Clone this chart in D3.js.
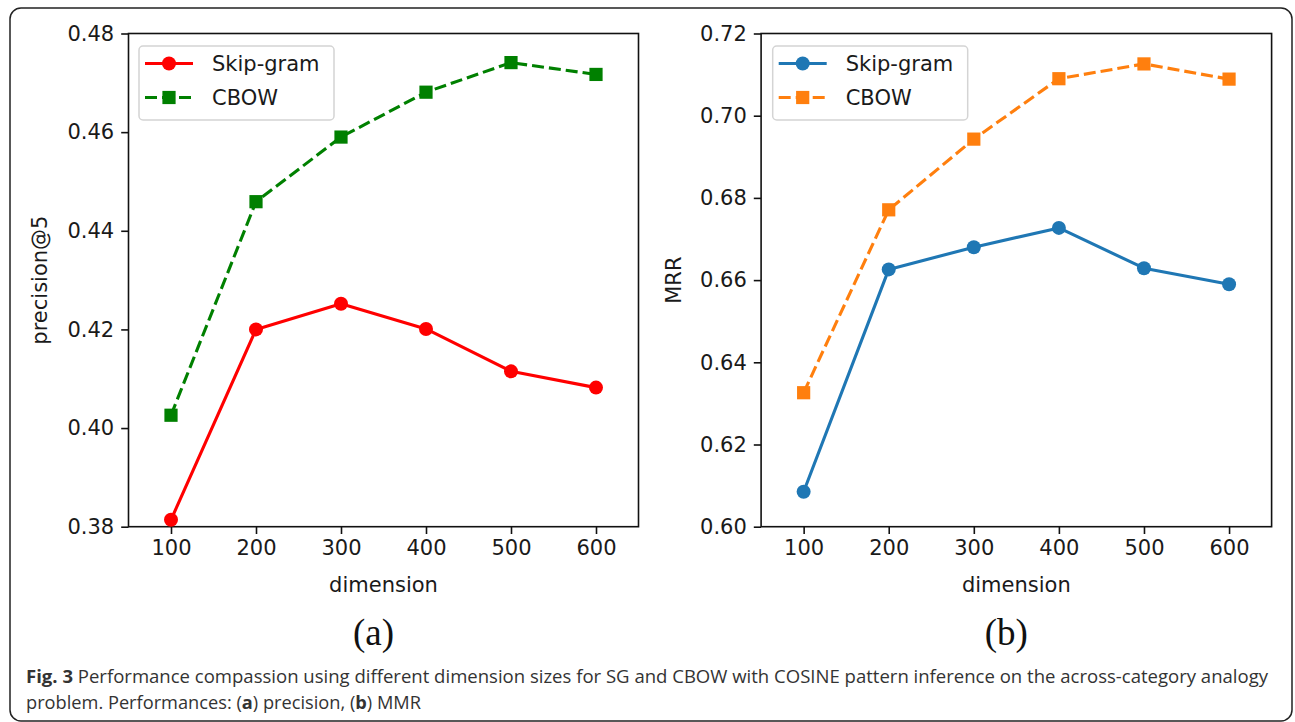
<!DOCTYPE html>
<html>
<head>
<meta charset="utf-8">
<script src="https://cdn.jsdelivr.net/npm/d3@7"></script>
<style>
  html, body { margin: 0; padding: 0; background: #fff; }
  svg { display: block; }
</style>
</head>
<body>
<div id="chart"></div>
<script>
const width = 1295;
const height = 722;

// data
const dimensions = [100, 200, 300, 400, 500, 600];
const precisionSkipGram = [0.3814, 0.4200, 0.4252, 0.4201, 0.4115, 0.4082];
const precisionCbow = [0.4026, 0.4459, 0.4590, 0.4681, 0.4741, 0.4717];
const mrrSkipGram = [0.6085, 0.6626, 0.6680, 0.6727, 0.6629, 0.6590];
const mrrCbow = [0.6326, 0.6771, 0.6943, 0.7090, 0.7126, 0.7089];
const precisionTicks = [0.38, 0.40, 0.42, 0.44, 0.46, 0.48];
const mrrTicks = [0.60, 0.62, 0.64, 0.66, 0.68, 0.70, 0.72];
const seriesNames = ["Skip-gram", "CBOW"];

const captionLine1 = "Performance compassion using different dimension sizes for SG and CBOW with COSINE pattern inference on the across-category analogy";

const chartFont = "'DejaVu Sans', sans-serif";
const fontSize = 21;
const markerR = 7;
const squareHalf = 6.6;

const svg = d3
  .select("#chart")
  .append("svg")
  .attr("width", width)
  .attr("height", height);

// outer rounded frame
svg
  .append("rect")
  .attr("x", 10)
  .attr("y", 8)
  .attr("width", 1282)
  .attr("height", 713)
  .attr("rx", 11)
  .attr("fill", "none")
  .attr("stroke", "#222")
  .attr("stroke-width", 1.5);

const drawPanel = (cfg) => {
  const { left, right, top, bottom } = cfg;
  const x = d3.scaleLinear().domain([50, 650]).range([left, right]);
  const y = d3.scaleLinear().domain(cfg.yDomain).range([bottom, top]);
  const g = svg.append("g");

  // axes
  const xAxis = d3.axisBottom(x).tickValues(dimensions).tickSize(7.3).tickPadding(6);
  const yAxis = d3.axisLeft(y).tickValues(cfg.yTicks).tickSize(7.3).tickPadding(7).tickFormat(d3.format(".2f"));

  g.append("g")
    .attr("transform", `translate(0,${bottom})`)
    .call(xAxis)
    .call((a) => a.select(".domain").remove());
  g.append("g")
    .attr("transform", `translate(${left},0)`)
    .call(yAxis)
    .call((a) => a.select(".domain").remove());

  g.selectAll(".tick line").attr("stroke", "#111").attr("stroke-width", 1.6);
  g.selectAll(".tick text")
    .attr("font-family", chartFont)
    .attr("font-size", fontSize)
    .attr("fill", "#1a1a1a");

  // spines
  g.append("rect")
    .attr("x", left)
    .attr("y", top)
    .attr("width", right - left)
    .attr("height", bottom - top)
    .attr("fill", "none")
    .attr("stroke", "#111")
    .attr("stroke-width", 1.6);

  // axis labels
  g.append("text")
    .attr("x", (left + right) / 2)
    .attr("y", 592)
    .attr("text-anchor", "middle")
    .attr("font-family", chartFont)
    .attr("font-size", fontSize)
    .attr("fill", "#1a1a1a")
    .text("dimension");

  g.append("text")
    .attr("transform", `translate(${cfg.yLabelX},${(top + bottom) / 2}) rotate(-90)`)
    .attr("text-anchor", "middle")
    .attr("font-family", chartFont)
    .attr("font-size", fontSize)
    .attr("fill", "#1a1a1a")
    .text(cfg.yLabel);

  const line = d3
    .line()
    .x((d, i) => x(dimensions[i]))
    .y((d) => y(d));

  // Skip-gram: solid with circles
  g.append("path")
    .datum(cfg.skip)
    .attr("d", line)
    .attr("fill", "none")
    .attr("stroke", cfg.colors[0])
    .attr("stroke-width", 3.1)
    .attr("stroke-linejoin", "round");
  g.append("g")
    .selectAll("circle")
    .data(cfg.skip)
    .enter()
    .append("circle")
    .attr("cx", (d, i) => x(dimensions[i]))
    .attr("cy", (d) => y(d))
    .attr("r", markerR)
    .attr("fill", cfg.colors[0]);

  // CBOW: dashed with squares
  g.append("path")
    .datum(cfg.cbow)
    .attr("d", line)
    .attr("fill", "none")
    .attr("stroke", cfg.colors[1])
    .attr("stroke-width", 3.1)
    .attr("stroke-dasharray", "12,5");
  g.append("g")
    .selectAll("rect")
    .data(cfg.cbow)
    .enter()
    .append("rect")
    .attr("x", (d, i) => x(dimensions[i]) - squareHalf)
    .attr("y", (d) => y(d) - squareHalf)
    .attr("width", squareHalf * 2)
    .attr("height", squareHalf * 2)
    .attr("fill", cfg.colors[1]);

  // legend
  const lx = cfg.legendX;
  const legend = g.append("g");
  legend
    .append("rect")
    .attr("x", lx)
    .attr("y", 46)
    .attr("width", 195)
    .attr("height", 74)
    .attr("rx", 4)
    .attr("fill", "rgba(255,255,255,0.8)")
    .attr("stroke", "#d4d4d4")
    .attr("stroke-width", 1.5);

  const rows = legend
    .selectAll("g.row")
    .data(seriesNames)
    .enter()
    .append("g")
    .attr("class", "row")
    .attr("transform", (d, i) => `translate(${lx},${i === 0 ? 63.5 : 97.5})`);

  rows
    .append("line")
    .attr("x1", 6)
    .attr("x2", 54)
    .attr("stroke", (d, i) => cfg.colors[i])
    .attr("stroke-width", 3.1)
    .attr("stroke-dasharray", (d, i) => (i === 1 ? "12,5" : null));

  rows
    .filter((d, i) => i === 0)
    .append("circle")
    .attr("cx", 30)
    .attr("r", markerR)
    .attr("fill", cfg.colors[0]);
  rows
    .filter((d, i) => i === 1)
    .append("rect")
    .attr("x", 30 - squareHalf)
    .attr("y", -squareHalf)
    .attr("width", squareHalf * 2)
    .attr("height", squareHalf * 2)
    .attr("fill", cfg.colors[1]);

  rows
    .append("text")
    .attr("x", 73)
    .attr("y", 7.5)
    .attr("font-family", chartFont)
    .attr("font-size", fontSize)
    .attr("fill", "#1a1a1a")
    .text((d) => d);

  // panel letter
  g.append("text")
    .attr("x", (left + right) / 2 - 10)
    .attr("y", 645)
    .attr("text-anchor", "middle")
    .attr("font-family", "'Liberation Serif', 'Times New Roman', serif")
    .attr("font-size", 37)
    .attr("fill", "#111")
    .text(cfg.letter);
};

drawPanel({
  left: 128.5,
  right: 638.5,
  top: 33.5,
  bottom: 526.7,
  yDomain: [0.38, 0.48],
  yTicks: precisionTicks,
  yLabel: "precision@5",
  yLabelX: 47,
  skip: precisionSkipGram,
  cbow: precisionCbow,
  colors: ["#ff0000", "#008000"],
  legendX: 139,
  letter: "(a)",
});

drawPanel({
  left: 761.1,
  right: 1271.6,
  top: 33.5,
  bottom: 526.7,
  yDomain: [0.6, 0.72],
  yTicks: mrrTicks,
  yLabel: "MRR",
  yLabelX: 681,
  skip: mrrSkipGram,
  cbow: mrrCbow,
  colors: ["#1f77b4", "#ff7f0e"],
  legendX: 772.7,
  letter: "(b)",
});

// caption
const captionFont = "'Open Sans', 'Noto Sans', sans-serif";
const captionSize = 17.5;
const cap1 = svg
  .append("text")
  .attr("x", 26)
  .attr("y", 683)
  .attr("font-family", captionFont)
  .attr("font-size", captionSize)
  .attr("fill", "#333")
  .attr("textLength", 1242)
  .attr("lengthAdjust", "spacingAndGlyphs");
cap1.append("tspan").attr("font-weight", "bold").text("Fig. 3");
cap1.append("tspan").text(" " + captionLine1);

const cap2 = svg
  .append("text")
  .attr("x", 26)
  .attr("y", 709)
  .attr("font-family", captionFont)
  .attr("font-size", captionSize)
  .attr("fill", "#333")
  .attr("textLength", 395)
  .attr("lengthAdjust", "spacingAndGlyphs");
cap2.append("tspan").text("problem. Performances: (");
cap2.append("tspan").attr("font-weight", "bold").text("a");
cap2.append("tspan").text(") precision, (");
cap2.append("tspan").attr("font-weight", "bold").text("b");
cap2.append("tspan").text(") MMR");
</script>
</body>
</html>
